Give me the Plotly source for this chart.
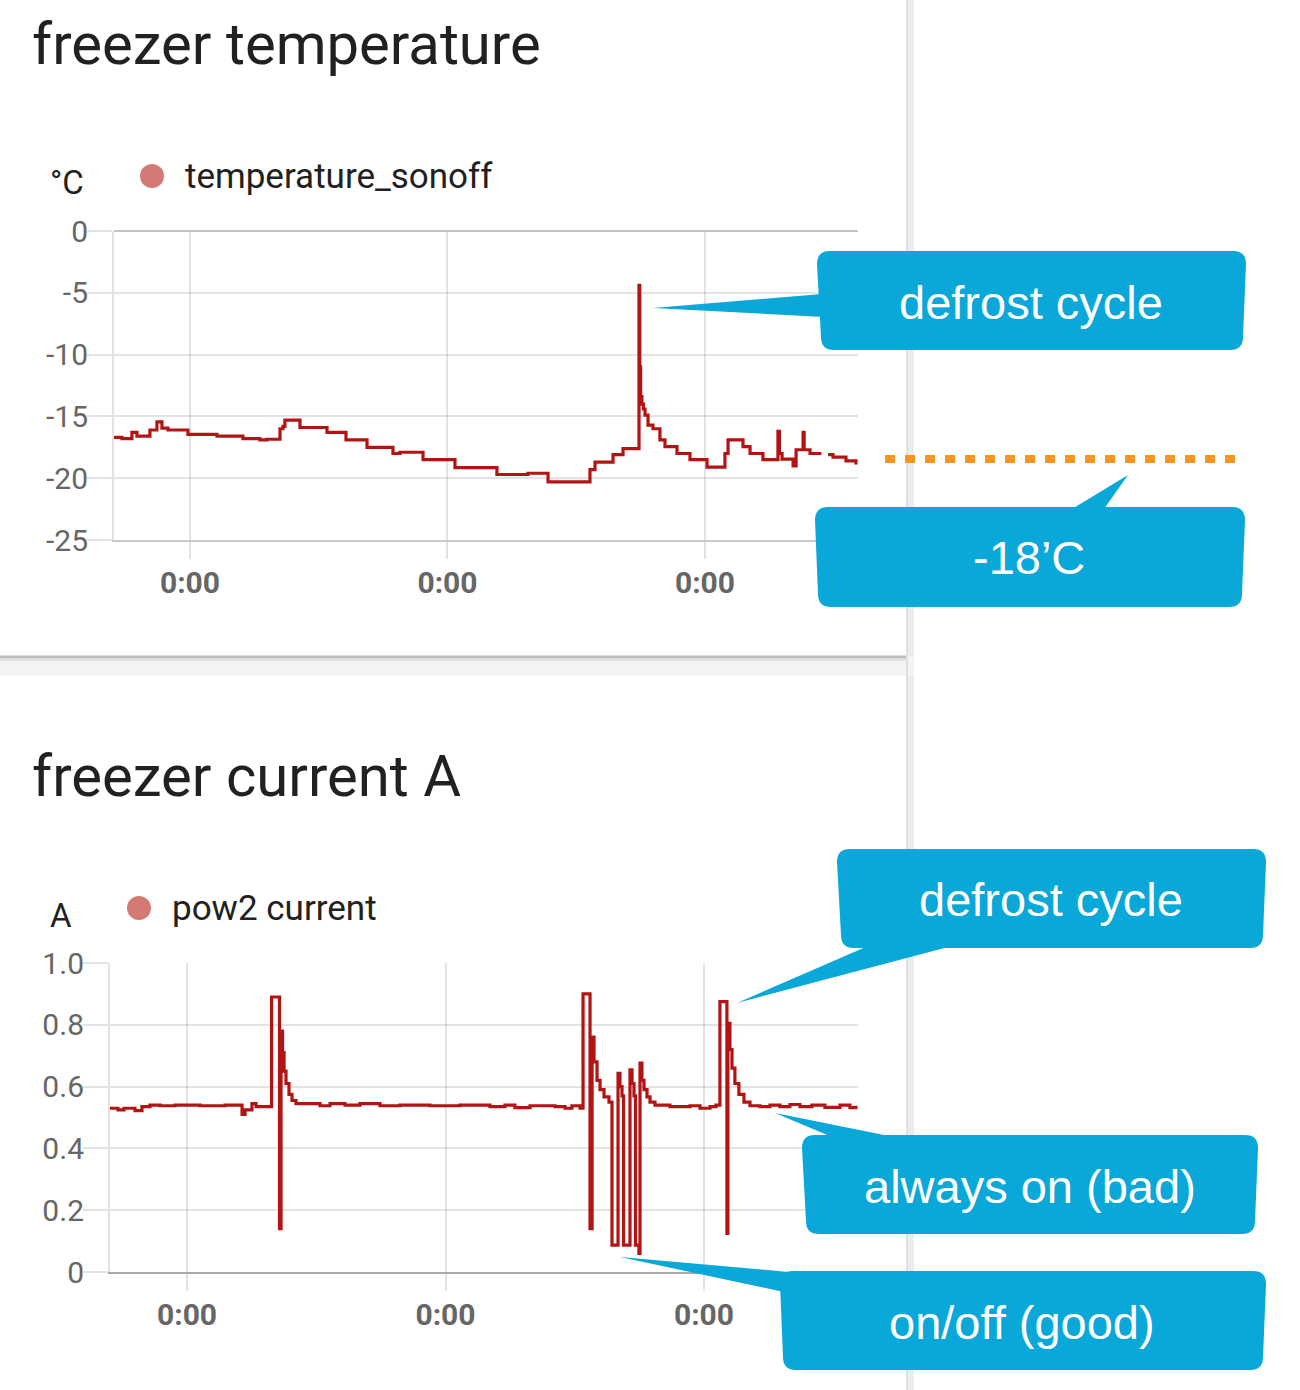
import plotly.graph_objects as go

W, H = 1300, 1390

# ---------------- data ----------------
# freezer temperature (hours relative to first midnight, degrees C)
temp_hours = [-7.18, -6.34, -5.41, -4.94, -3.73, -3.08, -2.61, -2.05, -0.19, 2.52, 4.94,
              6.52, 7.18, 8.39, 8.67, 8.85, 10.25, 12.77, 14.54, 16.50, 18.92, 19.57,
              21.72, 24.70, 28.61, 31.50, 33.37, 37.28, 37.75, 39.43, 40.36, 41.85,
              41.92, 42.00, 42.12, 42.26, 42.41, 42.69, 43.15, 43.80, 44.27, 45.39, 46.60,
              48.19, 49.86, 50.15, 51.54, 52.20, 53.40, 54.80, 54.94, 55.18, 56.21,
              56.49, 57.14, 57.24, 57.79, 58.85, 58.95, 59.47, 59.93, 61.14, 62.07]
temp_values = [-16.7, -16.8, -16.3, -16.6, -16.1, -15.45, -15.95, -16.1, -16.45, -16.6, -16.8,
               -16.9, -16.85, -16.0, -15.8, -15.3, -15.9, -16.3, -16.9, -17.5, -18.0, -17.9,
               -18.5, -19.15, -19.7, -19.6, -20.3, -19.3, -18.7, -18.1, -17.6, -4.4,
               -11.0, -13.4, -14.0, -14.4, -14.9, -15.7, -16.0, -16.9, -17.45, -18.0, -18.5,
               -19.1, -18.0, -16.9, -17.45, -18.0, -18.5, -16.2, -18.0, -18.45, -19.0,
               -17.7, -16.3, -17.7, -18.0, -18.0, None, -18.1, -18.3, -18.6, -18.9]

# freezer current (hours, amps)
current_hours = [-7.15, -6.41, -5.85, -4.83, -4.18, -3.44, -2.51, -1.11, 1.21, 3.53, 5.11,
                 5.39, 6.03, 6.41, 7.85, 8.59, 8.73, 8.87, 9.01, 9.19, 9.47, 9.75, 10.12,
                 11.42, 12.35, 13.28, 14.67, 16.06, 17.92, 19.78, 22.56, 25.35, 28.13,
                 29.52, 30.45, 31.85, 34.17, 35.10, 35.74, 36.49, 36.77, 37.42, 37.61,
                 37.79, 38.07, 38.35, 38.72, 39.18, 39.46, 40.02, 40.20, 40.39, 40.53,
                 41.13, 41.32, 41.50, 41.64, 41.96, 42.06, 42.24, 42.43, 42.71, 42.99,
                 43.45, 44.84, 46.70, 47.63, 48.56, 49.11, 49.48, 50.13, 50.22, 50.41,
                 50.60, 50.87, 51.24, 51.71, 52.27, 53.20, 54.13, 55.05, 55.98, 56.91,
                 58.02, 59.23, 60.63, 61.55, 62.11]
current_values = [0.53, 0.525, 0.53, 0.522, 0.535, 0.54, 0.538, 0.54, 0.538, 0.54, 0.51,
                  0.525, 0.545, 0.535, 0.89, 0.14, 0.78, 0.71, 0.65, 0.61, 0.575, 0.555, 0.545,
                  0.545, 0.538, 0.545, 0.54, 0.545, 0.538, 0.54, 0.538, 0.54, 0.535,
                  0.54, 0.532, 0.538, 0.535, 0.53, 0.538, 0.53, 0.90, 0.14, 0.76,
                  0.68, 0.62, 0.59, 0.567, 0.55, 0.087, 0.643, 0.60, 0.57, 0.087,
                  0.654, 0.61, 0.57, 0.087, 0.06, 0.676, 0.62, 0.59, 0.567, 0.55,
                  0.54, 0.535, 0.538, 0.53, 0.535, 0.54, 0.875, 0.125, 0.805, 0.72,
                  0.66, 0.61, 0.575, 0.55, 0.538, 0.535, 0.54, 0.535, 0.542, 0.535,
                  0.54, 0.533, 0.54, 0.532, 0.538]

x_tick_hours = [0, 24, 48]
x_tick_labels = ["0:00", "0:00", "0:00"]
temp_ticks = [0, -5, -10, -15, -20, -25]
temp_tick_labels = ["0", "-5", "-10", "-15", "-20", "-25"]
current_ticks = [0, 0.2, 0.4, 0.6, 0.8, 1.0]
current_tick_labels = ["0", "0.2", "0.4", "0.6", "0.8", "1.0"]

titles = ["freezer temperature", "freezer current A"]
series_names = ["temperature_sonoff", "pow2 current"]
units = ["°C", "A"]
callout_texts = ["defrost cycle", "-18’C", "defrost cycle", "always on (bad)", "on/off (good)"]

# ---------------- style ----------------
LINE = "#b21414"
DOT = "#d47a75"
GRID = "rgba(0,0,0,0.11)"
TICKC = "#666666"
BLUE = "#0aa7d9"
ORANGE = "#f7931e"


def px(x):
    return x / W


def py(y):
    return 1 - y / H


fig = go.Figure()
fig.add_trace(go.Scatter(x=temp_hours, y=temp_values, mode="lines",
                         line=dict(color=LINE, width=3.2, shape="hv"),
                         connectgaps=False, showlegend=False, hoverinfo="skip",
                         xaxis="x", yaxis="y"))
fig.add_trace(go.Scatter(x=current_hours, y=current_values, mode="lines",
                         line=dict(color=LINE, width=3.2, shape="hv"),
                         showlegend=False, hoverinfo="skip",
                         xaxis="x2", yaxis="y2"))

xfont = dict(family="Roboto", size=30, color=TICKC, weight="bold")
yfont = dict(family="Roboto", size=30, color=TICKC)

common_x = dict(tickvals=x_tick_hours, ticktext=x_tick_labels, showgrid=True,
                gridcolor=GRID, gridwidth=2, ticks="outside", ticklen=17, tickwidth=2,
                tickcolor=GRID, showline=True, linewidth=2, zeroline=False,
                tickfont=xfont, ticklabelstandoff=-2, fixedrange=True, automargin=False)
common_y = dict(showgrid=True, gridcolor=GRID, gridwidth=2, ticks="outside",
                ticklen=25, tickwidth=2, tickcolor=GRID, showline=True,
                linecolor=GRID, linewidth=2, tickfont=yfont, ticklabelstandoff=-7,
                fixedrange=True, automargin=False)

fig.update_layout(
    template="none",
    width=W, height=H, autosize=False, margin=dict(l=0, r=0, t=0, b=0, pad=0),
    paper_bgcolor="white", plot_bgcolor="rgba(0,0,0,0)", showlegend=False,
    xaxis=dict(domain=[px(114), px(858)], range=[-7.08, 62.26], anchor="y",
               linecolor="#c9c9c9", **common_x),
    yaxis=dict(domain=[py(540), py(231)], range=[-25, 0], anchor="x",
               tickvals=temp_ticks, ticktext=temp_tick_labels,
               zeroline=True, zerolinecolor="#c4c4c4", zerolinewidth=2, **common_y),
    xaxis2=dict(domain=[px(110), px(858)], range=[-7.15, 62.3], anchor="y2",
                linecolor="#a9a9a9", **common_x),
    yaxis2=dict(domain=[py(1272), py(963)], range=[0, 1], anchor="x2",
                tickvals=current_ticks, ticktext=current_tick_labels,
                zeroline=False, **common_y),
)

shapes = []
# page background pieces (cards on a light grey page)
shapes.append(dict(type="rect", xref="paper", yref="paper", layer="below",
                   x0=px(907), x1=px(914), y0=py(1390), y1=py(0),
                   fillcolor="#ececec", line=dict(width=0)))
shapes.append(dict(type="rect", xref="paper", yref="paper", layer="below",
                   x0=px(0), x1=px(914), y0=py(676), y1=py(656),
                   fillcolor="#f3f3f3", line=dict(width=0)))
shapes.append(dict(type="rect", xref="paper", yref="paper", layer="below",
                   x0=px(0), x1=px(907), y0=py(658.5), y1=py(655.5),
                   fillcolor="#bdbdbd", line=dict(width=0)))
shapes.append(dict(type="rect", xref="paper", yref="paper", layer="below",
                   x0=px(0), x1=px(907), y0=py(661), y1=py(658.5),
                   fillcolor="#e2e2e2", line=dict(width=0)))
shapes.append(dict(type="rect", xref="paper", yref="paper", layer="below",
                   x0=px(906), x1=px(908), y0=py(1390), y1=py(0),
                   fillcolor="#e0e0e0", line=dict(width=0)))

# legend dots
for cx, cy in [(152, 176), (139, 908)]:
    shapes.append(dict(type="circle", xref="paper", yref="paper",
                       x0=px(cx - 12), x1=px(cx + 12), y0=py(cy + 12), y1=py(cy - 12),
                       fillcolor=DOT, line=dict(width=0)))

# -18 C dotted reference line
shapes.append(dict(type="line", xref="paper", yref="paper",
                   x0=px(885), x1=px(1240), y0=py(459), y1=py(459),
                   line=dict(color=ORANGE, width=8, dash="10px,10px")))


def rounded_box(tl, tr, br, bl, r=13):
    pts = []
    pts.append(f"M{px(tl[0] + r)},{py(tl[1])}")
    pts.append(f"L{px(tr[0] - r)},{py(tr[1])}")
    pts.append(f"Q{px(tr[0])},{py(tr[1])} {px(tr[0])},{py(tr[1] + r)}")
    pts.append(f"L{px(br[0])},{py(br[1] - r)}")
    pts.append(f"Q{px(br[0])},{py(br[1])} {px(br[0] - r)},{py(br[1])}")
    pts.append(f"L{px(bl[0] + r)},{py(bl[1])}")
    pts.append(f"Q{px(bl[0])},{py(bl[1])} {px(bl[0])},{py(bl[1] - r)}")
    pts.append(f"L{px(tl[0])},{py(tl[1] + r)}")
    pts.append(f"Q{px(tl[0])},{py(tl[1])} {px(tl[0] + r)},{py(tl[1])}")
    pts.append("Z")
    return " ".join(pts)


def tri(a, b, c):
    return (f"M{px(a[0])},{py(a[1])} L{px(b[0])},{py(b[1])} "
            f"L{px(c[0])},{py(c[1])} Z")


boxes = [
    ((817, 251), (1246, 251), (1243, 350), (821, 350)),
    ((815, 507), (1245, 507), (1242, 607), (818, 607)),
    ((837, 849), (1266, 849), (1263, 948), (841, 948)),
    ((802, 1135), (1258, 1135), (1255, 1234), (806, 1234)),
    ((780, 1271), (1266, 1271), (1263, 1370), (783, 1370)),
]
pointers = [
    ((653, 308), (822, 294), (824, 317)),
    ((1128, 475), (1072, 509), (1104, 509)),
    ((737, 1003), (868, 946), (952, 946)),
    ((775, 1113), (832, 1137), (894, 1137)),
    ((620, 1257), (800, 1273), (784, 1292)),
]
for b, p in zip(boxes, pointers):
    shapes.append(dict(type="path", xref="paper", yref="paper", path=rounded_box(*b),
                       fillcolor=BLUE, line=dict(width=0), layer="above"))
    shapes.append(dict(type="path", xref="paper", yref="paper", path=tri(*p),
                       fillcolor=BLUE, line=dict(width=0), layer="above"))

fig.update_layout(shapes=shapes)

ann = []
TXT = "#212121"
ann.append(dict(text=titles[0], x=px(30), y=py(44), xref="paper", yref="paper",
                xanchor="left", yanchor="middle", showarrow=False,
                font=dict(family="Roboto", size=58, color=TXT)))
ann.append(dict(text=titles[1], x=px(30), y=py(776), xref="paper", yref="paper",
                xanchor="left", yanchor="middle", showarrow=False,
                font=dict(family="Roboto", size=58, color=TXT)))
for name, (lx, ly) in zip(series_names, [(183, 176), (170, 908)]):
    ann.append(dict(text=name, x=px(lx), y=py(ly), xref="paper", yref="paper",
                    xanchor="left", yanchor="middle", showarrow=False,
                    font=dict(family="Roboto", size=35, color=TXT)))
for u, (ux, uy) in zip(units, [(48, 183), (48, 915)]):
    ann.append(dict(text=u, x=px(ux), y=py(uy), xref="paper", yref="paper",
                    xanchor="left", yanchor="middle", showarrow=False,
                    font=dict(family="Roboto", size=33, color=TXT)))
centers = [(1031, 302), (1029, 557), (1051, 899), (1030, 1186), (1022, 1322)]
for t, (cx, cy) in zip(callout_texts, centers):
    ann.append(dict(text=t, x=px(cx), y=py(cy), xref="paper", yref="paper",
                    xanchor="center", yanchor="middle", showarrow=False,
                    font=dict(family="Liberation Sans", size=47, color="white")))
fig.update_layout(annotations=ann)

fig.write_html("out.html", config={"responsive": False, "displayModeBar": False},
               post_script="document.body.style.margin='0';document.body.style.padding='0';")
